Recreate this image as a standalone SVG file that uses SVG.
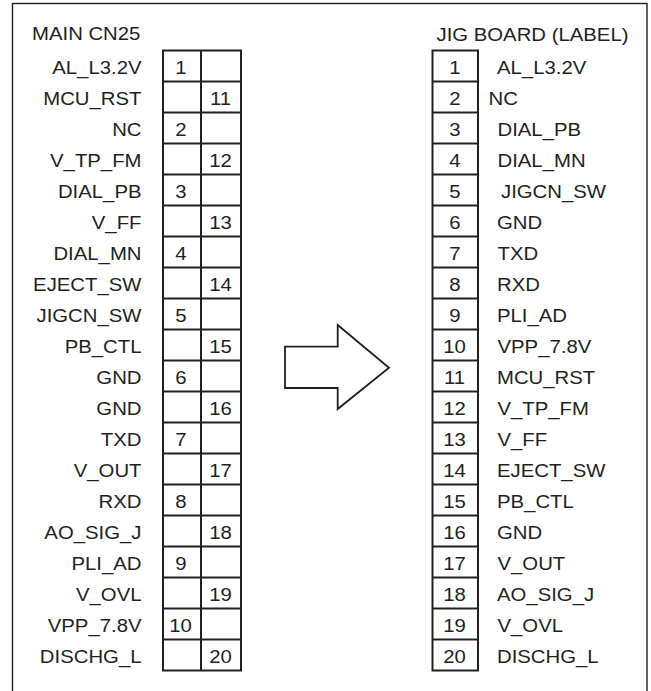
<svg xmlns="http://www.w3.org/2000/svg" width="651" height="691" viewBox="0 0 651 691">
<style>
text{font-family:"Liberation Sans",Arial,sans-serif;font-size:18px;fill:#231f20}
.e{text-anchor:end}
.m{text-anchor:middle}
.grid{fill:none;stroke:#231f20;stroke-width:2}
.frame{fill:none;stroke:#231f20;stroke-width:1.4}
</style>
<rect class="frame" x="12.5" y="3.5" width="634.5" height="700"/>
<g id="main-cn25">
<text transform="translate(32 39.5) scale(1.13 1)">MAIN CN25</text>
<rect class="grid" x="163" y="50.5" width="78" height="620"/>
<path class="grid" d="M201 50.5V670.5M163 81.5H241M163 112.5H241M163 143.5H241M163 174.5H241M163 205.5H241M163 236.5H241M163 267.5H241M163 298.5H241M163 329.5H241M163 360.5H241M163 391.5H241M163 422.5H241M163 453.5H241M163 484.5H241M163 515.5H241M163 546.5H241M163 577.5H241M163 608.5H241M163 639.5H241"/>
<g class="e">
<text class="e" transform="translate(141.5 73.5) scale(1.13 1)">AL_L3.2V</text>
<text class="e" transform="translate(141.5 104.5) scale(1.13 1)">MCU_RST</text>
<text class="e" transform="translate(141.5 135.5) scale(1.13 1)">NC</text>
<text class="e" transform="translate(141.5 166.5) scale(1.13 1)">V_TP_FM</text>
<text class="e" transform="translate(141.5 197.5) scale(1.13 1)">DIAL_PB</text>
<text class="e" transform="translate(141.5 228.5) scale(1.13 1)">V_FF</text>
<text class="e" transform="translate(141.5 259.5) scale(1.13 1)">DIAL_MN</text>
<text class="e" transform="translate(141.5 290.5) scale(1.13 1)">EJECT_SW</text>
<text class="e" transform="translate(141.5 321.5) scale(1.13 1)">JIGCN_SW</text>
<text class="e" transform="translate(141.5 352.5) scale(1.13 1)">PB_CTL</text>
<text class="e" transform="translate(141.5 383.5) scale(1.13 1)">GND</text>
<text class="e" transform="translate(141.5 414.5) scale(1.13 1)">GND</text>
<text class="e" transform="translate(141.5 445.5) scale(1.13 1)">TXD</text>
<text class="e" transform="translate(141.5 476.5) scale(1.13 1)">V_OUT</text>
<text class="e" transform="translate(141.5 507.5) scale(1.13 1)">RXD</text>
<text class="e" transform="translate(141.5 538.5) scale(1.13 1)">AO_SIG_J</text>
<text class="e" transform="translate(141.5 569.5) scale(1.13 1)">PLI_AD</text>
<text class="e" transform="translate(141.5 600.5) scale(1.13 1)">V_OVL</text>
<text class="e" transform="translate(141.5 631.5) scale(1.13 1)">VPP_7.8V</text>
<text class="e" transform="translate(141.5 662.5) scale(1.13 1)">DISCHG_L</text>
</g>
<text class="m" transform="translate(181 73.5) scale(1.13 1)">1</text>
<text class="m" transform="translate(220.5 104.5) scale(1.13 1)">11</text>
<text class="m" transform="translate(181 135.5) scale(1.13 1)">2</text>
<text class="m" transform="translate(220.5 166.5) scale(1.13 1)">12</text>
<text class="m" transform="translate(181 197.5) scale(1.13 1)">3</text>
<text class="m" transform="translate(220.5 228.5) scale(1.13 1)">13</text>
<text class="m" transform="translate(181 259.5) scale(1.13 1)">4</text>
<text class="m" transform="translate(220.5 290.5) scale(1.13 1)">14</text>
<text class="m" transform="translate(181 321.5) scale(1.13 1)">5</text>
<text class="m" transform="translate(220.5 352.5) scale(1.13 1)">15</text>
<text class="m" transform="translate(181 383.5) scale(1.13 1)">6</text>
<text class="m" transform="translate(220.5 414.5) scale(1.13 1)">16</text>
<text class="m" transform="translate(181 445.5) scale(1.13 1)">7</text>
<text class="m" transform="translate(220.5 476.5) scale(1.13 1)">17</text>
<text class="m" transform="translate(181 507.5) scale(1.13 1)">8</text>
<text class="m" transform="translate(220.5 538.5) scale(1.13 1)">18</text>
<text class="m" transform="translate(181 569.5) scale(1.13 1)">9</text>
<text class="m" transform="translate(220.5 600.5) scale(1.13 1)">19</text>
<text class="m" transform="translate(180.5 631.5) scale(1.13 1)">10</text>
<text class="m" transform="translate(220.5 662.5) scale(1.13 1)">20</text>
</g>
<g id="arrow">
<polygon points="285,346.7 337.7,346.7 337.7,325 389,367.7 337.7,409 337.7,388 285,388" fill="#fff" stroke="#231f20" stroke-width="1.8" stroke-linejoin="miter"/>
</g>
<g id="jig-board">
<text transform="translate(436.5 40.5) scale(1.13 1)">JIG BOARD (LABEL)</text>
<rect class="grid" x="432.5" y="50.5" width="45.5" height="620"/>
<path class="grid" d="M432.5 81.5H478M432.5 112.5H478M432.5 143.5H478M432.5 174.5H478M432.5 205.5H478M432.5 236.5H478M432.5 267.5H478M432.5 298.5H478M432.5 329.5H478M432.5 360.5H478M432.5 391.5H478M432.5 422.5H478M432.5 453.5H478M432.5 484.5H478M432.5 515.5H478M432.5 546.5H478M432.5 577.5H478M432.5 608.5H478M432.5 639.5H478"/>
<text class="m" transform="translate(455 73.5) scale(1.13 1)">1</text>
<text class="m" transform="translate(455 104.5) scale(1.13 1)">2</text>
<text class="m" transform="translate(455 135.5) scale(1.13 1)">3</text>
<text class="m" transform="translate(455 166.5) scale(1.13 1)">4</text>
<text class="m" transform="translate(455 197.5) scale(1.13 1)">5</text>
<text class="m" transform="translate(455 228.5) scale(1.13 1)">6</text>
<text class="m" transform="translate(455 259.5) scale(1.13 1)">7</text>
<text class="m" transform="translate(455 290.5) scale(1.13 1)">8</text>
<text class="m" transform="translate(455 321.5) scale(1.13 1)">9</text>
<text class="m" transform="translate(454.5 352.5) scale(1.13 1)">10</text>
<text class="m" transform="translate(454.5 383.5) scale(1.13 1)">11</text>
<text class="m" transform="translate(454.5 414.5) scale(1.13 1)">12</text>
<text class="m" transform="translate(454.5 445.5) scale(1.13 1)">13</text>
<text class="m" transform="translate(454.5 476.5) scale(1.13 1)">14</text>
<text class="m" transform="translate(454.5 507.5) scale(1.13 1)">15</text>
<text class="m" transform="translate(454.5 538.5) scale(1.13 1)">16</text>
<text class="m" transform="translate(454.5 569.5) scale(1.13 1)">17</text>
<text class="m" transform="translate(454.5 600.5) scale(1.13 1)">18</text>
<text class="m" transform="translate(454.5 631.5) scale(1.13 1)">19</text>
<text class="m" transform="translate(454.5 662.5) scale(1.13 1)">20</text>
<text transform="translate(497 73.5) scale(1.13 1)">AL_L3.2V</text>
<text transform="translate(488.5 104.5) scale(1.13 1)">NC</text>
<text transform="translate(497.5 135.5) scale(1.13 1)">DIAL_PB</text>
<text transform="translate(497.5 166.5) scale(1.13 1)">DIAL_MN</text>
<text transform="translate(501 197.5) scale(1.13 1)">JIGCN_SW</text>
<text transform="translate(497 228.5) scale(1.13 1)">GND</text>
<text transform="translate(497.5 259.5) scale(1.13 1)">TXD</text>
<text transform="translate(497 290.5) scale(1.13 1)">RXD</text>
<text transform="translate(497 321.5) scale(1.13 1)">PLI_AD</text>
<text transform="translate(497.5 352.5) scale(1.13 1)">VPP_7.8V</text>
<text transform="translate(497 383.5) scale(1.13 1)">MCU_RST</text>
<text transform="translate(497.5 414.5) scale(1.13 1)">V_TP_FM</text>
<text transform="translate(497.5 445.5) scale(1.13 1)">V_FF</text>
<text transform="translate(497 476.5) scale(1.13 1)">EJECT_SW</text>
<text transform="translate(497 507.5) scale(1.13 1)">PB_CTL</text>
<text transform="translate(497 538.5) scale(1.13 1)">GND</text>
<text transform="translate(497.5 569.5) scale(1.13 1)">V_OUT</text>
<text transform="translate(497 600.5) scale(1.13 1)">AO_SIG_J</text>
<text transform="translate(497.5 631.5) scale(1.13 1)">V_OVL</text>
<text transform="translate(497 662.5) scale(1.13 1)">DISCHG_L</text>
</g>
</svg>
